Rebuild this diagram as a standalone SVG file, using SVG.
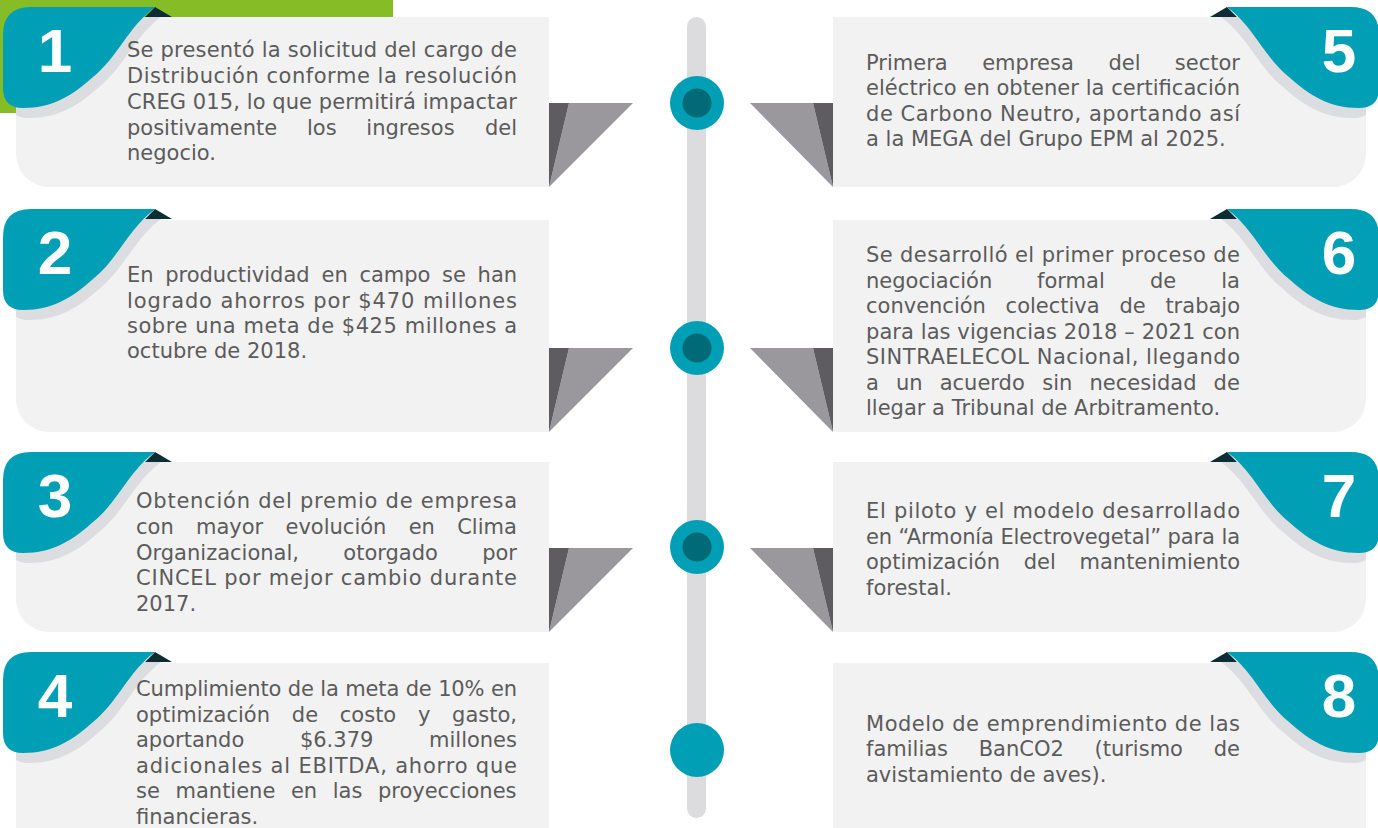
<svg xmlns="http://www.w3.org/2000/svg" xmlns:xlink="http://www.w3.org/1999/xlink" width="1378" height="828" viewBox="0 0 1378 828">
<style>
.card{fill:#f2f2f2}
.tab{fill:#009fb5}
.shadow{fill:#dcdde0}
.notch{fill:#0c2d33}
.tl{fill:#9a989c}
.td{fill:#5e5c61}
.t{font-family:"DejaVu Sans",sans-serif;font-size:21px;fill:#5b5b5b}
.n{font-family:"Liberation Sans",Arial,sans-serif;font-weight:bold;font-size:62px;fill:#ffffff;text-anchor:middle}
.ring{fill:#009fb5}
.core{fill:#006a76}
</style>
<defs>
<path id="tabshape" d="M3,28 Q3,0 31,0 L155,0 C128,20 118,50 93,70 C73,88 53,101 23,101 Q3,101 3,81 Z"/>
<polygon id="notchshape" points="145,10 155,0 172,10"/>
<clipPath id="cl"><rect x="16" y="10" width="540" height="220"/></clipPath>
<g id="tabgroup">
<use xlink:href="#notchshape" class="notch"/>
<g clip-path="url(#cl)"><use xlink:href="#tabshape" class="shadow" transform="translate(6,10)"/></g>
<use xlink:href="#tabshape" class="tab"/>
</g>
</defs>
<rect x="0" y="0" width="393" height="113" fill="#86bc25"/>
<rect x="687" y="17" width="19" height="801" rx="9.5" fill="#dcdcdf"/>

<g id="connectors">
<polygon class="tl" points="569,103 633,103 549,187"/><polygon class="td" points="549,103 569,103 549,187"/>
<polygon class="tl" points="750,103 813,103 833,187"/><polygon class="td" points="813,103 833,103 833,187"/>
<polygon class="tl" points="569,348 633,348 549,432"/><polygon class="td" points="549,348 569,348 549,432"/>
<polygon class="tl" points="750,348 813,348 833,432"/><polygon class="td" points="813,348 833,348 833,432"/>
<polygon class="tl" points="569,548 633,548 549,632"/><polygon class="td" points="549,548 569,548 549,632"/>
<polygon class="tl" points="750,548 813,548 833,632"/><polygon class="td" points="813,548 833,548 833,632"/>
<circle class="ring" cx="697" cy="103" r="27"/><circle class="core" cx="697" cy="103" r="14.5"/>
<circle class="ring" cx="697" cy="348" r="27"/><circle class="core" cx="697" cy="348" r="14.5"/>
<circle class="ring" cx="697" cy="547" r="27"/><circle class="core" cx="697" cy="547" r="14.5"/>
<circle class="ring" cx="697" cy="750" r="27"/>
</g>

<g id="node1">
<path class="card" d="M16,17 H549 V187 H49 A33,33 0 0 1 16,154 Z"/>
<g transform="translate(0,7)"><use xlink:href="#tabgroup"/></g>
<text class="n" x="55" y="72">1</text>
<text class="t" x="127" y="57" textLength="390" lengthAdjust="spacing">Se presentó la solicitud del cargo de</text>
<text class="t" x="127" y="83" textLength="390" lengthAdjust="spacing">Distribución conforme la resolución</text>
<text class="t" x="127" y="109" textLength="390" lengthAdjust="spacing">CREG 015, lo que permitirá impactar</text>
<text class="t" y="134.5"><tspan x="127">positivamente</tspan> <tspan x="307">los</tspan> <tspan x="366.3">ingresos</tspan> <tspan x="485">del</tspan></text>
<text class="t" x="127" y="160">negocio.</text>
</g>

<g id="node2">
<path class="card" d="M16,220 H549 V432 H49 A33,33 0 0 1 16,399 Z"/>
<g transform="translate(0,209)"><use xlink:href="#tabgroup"/></g>
<text class="n" x="55" y="274">2</text>
<text class="t" y="282"><tspan x="127">En</tspan> <tspan x="165.2">productividad</tspan> <tspan x="321.6">en</tspan> <tspan x="359.4">campo</tspan> <tspan x="442.1">se</tspan> <tspan x="477.6">han</tspan></text>
<text class="t" x="127" y="308" textLength="390" lengthAdjust="spacing">logrado ahorros por $470 millones</text>
<text class="t" x="127" y="333" textLength="390" lengthAdjust="spacing">sobre una meta de $425 millones a</text>
<text class="t" x="127" y="358">octubre de 2018.</text>
</g>

<g id="node3">
<path class="card" d="M16,462 H549 V632 H49 A33,33 0 0 1 16,599 Z"/>
<g transform="translate(0,452)"><use xlink:href="#tabgroup"/></g>
<text class="n" x="55" y="517">3</text>
<text class="t" x="136" y="508" textLength="381" lengthAdjust="spacing">Obtención del premio de empresa</text>
<text class="t" y="534"><tspan x="136">con</tspan> <tspan x="196">mayor</tspan> <tspan x="285.5">evolución</tspan> <tspan x="408.7">en</tspan> <tspan x="457.2">Clima</tspan></text>
<text class="t" y="559.5"><tspan x="136">Organizacional,</tspan> <tspan x="343.3">otorgado</tspan> <tspan x="482.2">por</tspan></text>
<text class="t" x="136" y="585" textLength="381" lengthAdjust="spacing">CINCEL por mejor cambio durante</text>
<text class="t" x="136" y="611">2017.</text>
</g>

<g id="node4">
<path class="card" d="M16,663 H549 V860 H16 Z"/>
<g transform="translate(0,652)"><use xlink:href="#tabgroup"/></g>
<text class="n" x="55" y="717">4</text>
<text class="t" x="136" y="696" textLength="381" lengthAdjust="spacing">Cumplimiento de la meta de 10% en</text>
<text class="t" y="722"><tspan x="136">optimización</tspan> <tspan x="291.8">de</tspan> <tspan x="339.8">costo</tspan> <tspan x="417.9">y</tspan> <tspan x="452.1">gasto,</tspan></text>
<text class="t" y="747"><tspan x="136">aportando</tspan> <tspan x="299.9">$6.379</tspan> <tspan x="429">millones</tspan></text>
<text class="t" x="136" y="773" textLength="381" lengthAdjust="spacing">adicionales al EBITDA, ahorro que</text>
<text class="t" y="798"><tspan x="136">se</tspan> <tspan x="175.5">mantiene</tspan> <tspan x="290.9">en</tspan> <tspan x="332.7">las</tspan> <tspan x="377.9">proyecciones</tspan></text>
<text class="t" x="136" y="824">financieras.</text>
</g>

<g id="node5">
<path class="card" d="M833,17 H1366 V154 A33,33 0 0 1 1333,187 H833 Z"/>
<g transform="translate(1382,7) scale(-1,1)"><use xlink:href="#tabgroup"/></g>
<text class="n" x="1339" y="72">5</text>
<text class="t" y="70"><tspan x="866">Primera</tspan> <tspan x="982.2">empresa</tspan> <tspan x="1108.5">del</tspan> <tspan x="1174.8">sector</tspan></text>
<text class="t" x="866" y="95" textLength="374" lengthAdjust="spacing">eléctrico en obtener la certificación</text>
<text class="t" x="866" y="121" textLength="374" lengthAdjust="spacing">de Carbono Neutro, aportando así</text>
<text class="t" x="866" y="146">a la MEGA del Grupo EPM al 2025.</text>
</g>

<g id="node6">
<path class="card" d="M833,220 H1366 V399 A33,33 0 0 1 1333,432 H833 Z"/>
<g transform="translate(1382,209) scale(-1,1)"><use xlink:href="#tabgroup"/></g>
<text class="n" x="1339" y="274">6</text>
<text class="t" x="866" y="262" textLength="374" lengthAdjust="spacing">Se desarrolló el primer proceso de</text>
<text class="t" y="288"><tspan x="866">negociación</tspan> <tspan x="1037.1">formal</tspan> <tspan x="1150">de</tspan> <tspan x="1221.2">la</tspan></text>
<text class="t" y="313"><tspan x="866">convención</tspan> <tspan x="1005.6">colectiva</tspan> <tspan x="1119.4">de</tspan> <tspan x="1165.4">trabajo</tspan></text>
<text class="t" x="866" y="339" textLength="374" lengthAdjust="spacing">para las vigencias 2018 – 2021 con</text>
<text class="t" x="866" y="364" textLength="374" lengthAdjust="spacing">SINTRAELECOL Nacional, llegando</text>
<text class="t" y="390"><tspan x="866">a</tspan> <tspan x="896">un</tspan> <tspan x="939.7">acuerdo</tspan> <tspan x="1042.3">sin</tspan> <tspan x="1089.5">necesidad</tspan> <tspan x="1213.6">de</tspan></text>
<text class="t" x="866" y="415">llegar a Tribunal de Arbitramento.</text>
</g>

<g id="node7">
<path class="card" d="M833,462 H1366 V599 A33,33 0 0 1 1333,632 H833 Z"/>
<g transform="translate(1382,452) scale(-1,1)"><use xlink:href="#tabgroup"/></g>
<text class="n" x="1339" y="517">7</text>
<text class="t" x="866" y="518" textLength="374" lengthAdjust="spacing">El piloto y el modelo desarrollado</text>
<text class="t" x="866" y="544" textLength="374" lengthAdjust="spacing">en “Armonía Electrovegetal” para la</text>
<text class="t" y="569"><tspan x="866">optimización</tspan> <tspan x="1023.7">del</tspan> <tspan x="1079.5">mantenimiento</tspan></text>
<text class="t" x="866" y="595">forestal.</text>
</g>

<g id="node8">
<path class="card" d="M833,663 H1366 V860 H833 Z"/>
<g transform="translate(1382,652) scale(-1,1)"><use xlink:href="#tabgroup"/></g>
<text class="n" x="1339" y="717">8</text>
<text class="t" x="866" y="731" textLength="374" lengthAdjust="spacing">Modelo de emprendimiento de las</text>
<text class="t" y="756"><tspan x="866">familias</tspan> <tspan x="978.7">BanCO2</tspan> <tspan x="1094.5">(turismo</tspan> <tspan x="1213.7">de</tspan></text>
<text class="t" x="866" y="782">avistamiento de aves).</text>
</g>
</svg>
